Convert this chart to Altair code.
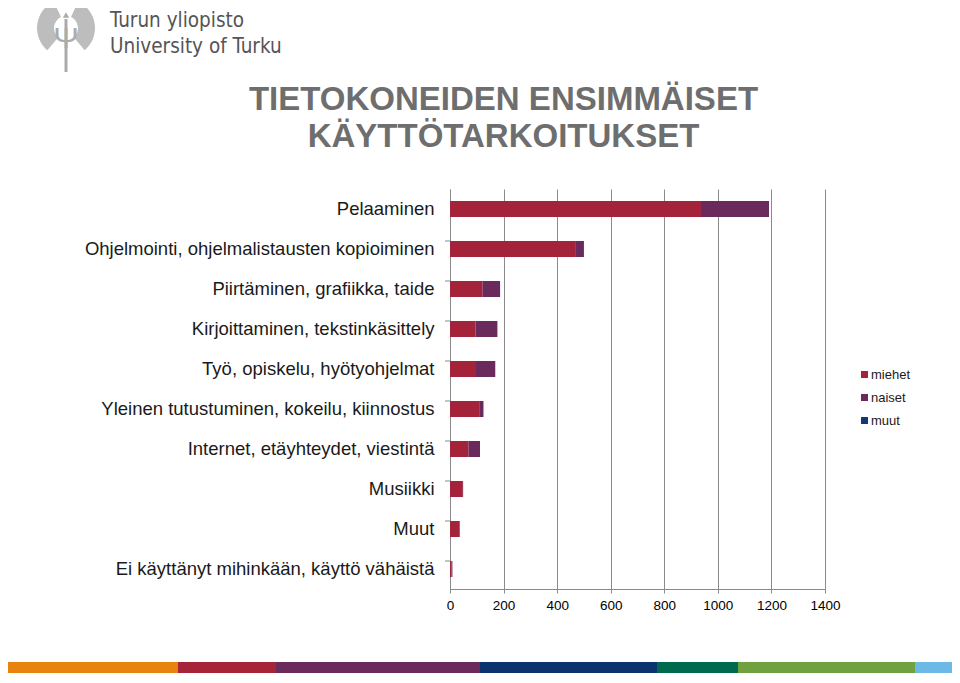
import altair as alt
import pandas as pd

categories = [
    "Pelaaminen",
    "Ohjelmointi, ohjelmalistausten kopioiminen",
    "Piirtäminen, grafiikka, taide",
    "Kirjoittaminen, tekstinkäsittely",
    "Työ, opiskelu, hyötyohjelmat",
    "Yleinen tutustuminen, kokeilu, kiinnostus",
    "Internet, etäyhteydet, viestintä",
    "Musiikki",
    "Muut",
    "Ei käyttänyt mihinkään, käyttö vähäistä",
]
series = ["miehet", "naiset", "muut"]
series_colors = ["#a4233b", "#6b2a5c", "#123a78"]
miehet = [937, 470, 121, 95, 97, 109, 69, 48, 36, 6]
naiset = [254, 30, 66, 82, 72, 16, 43, 1, 1, 3]
muut = [0, 0, 0, 0, 0, 0, 0, 0, 0, 0]
x_ticks = [0, 200, 400, 600, 800, 1000, 1200, 1400]

title_lines = ["TIETOKONEIDEN ENSIMMÄISET", "KÄYTTÖTARKOITUKSET"]
logo_lines = ["Turun yliopisto", "University of Turku"]

strip_start = [5, 178, 276, 480, 657, 738, 915]
strip_end = [178, 276, 480, 657, 738, 915, 957]
strip_colors = ["#e8830f", "#a6233a", "#6a2a5b", "#0a3370", "#006a4e", "#6fa23f", "#6cb8e6"]

rows = []
for i, c in enumerate(categories):
    for j, (s, vals) in enumerate(zip(series, [miehet, naiset, muut])):
        rows.append({"kategoria": c, "sarja": s, "arvo": vals[i], "ord": j})
df = pd.DataFrame(rows)

FONT = "Liberation Sans, Arial, sans-serif"

yscale = alt.Scale(domain=categories, paddingInner=0.6, paddingOuter=0.3)
yaxis = alt.Axis(title=None, ticks=False, labelFontSize=18.5, labelColor="#1a1a1a",
                 labelFont=FONT, labelPadding=16, labelLimit=600,
                 domainColor="#8a8a8a", grid=False)

bars = alt.Chart(df).mark_bar().encode(
    y=alt.Y("kategoria:N", scale=yscale, sort=categories, axis=yaxis),
    x=alt.X("arvo:Q", stack="zero",
            scale=alt.Scale(domain=[0, 1400], nice=False),
            axis=alt.Axis(title=None, values=x_ticks, grid=True, gridColor="#8a8a8a",
                          domainColor="#8a8a8a", tickColor="#8a8a8a", tickSize=4,
                          labelPadding=5, labelFontSize=13.5, labelColor="#000000",
                          labelFont=FONT, labelFlush=False, format="d")),
    color=alt.Color("sarja:N", scale=alt.Scale(domain=series, range=series_colors),
                    legend=alt.Legend(title=None, orient="none", legendX=408, legendY=179,
                                      symbolType="square", symbolSize=49, symbolStrokeWidth=0,
                                      labelFontSize=13, labelColor="#1a1a1a", labelFont=FONT,
                                      rowPadding=9, labelOffset=0, padding=0)),
    order=alt.Order("ord:Q"),
)

tick_df = pd.DataFrame({"kategoria": categories[1:]})
yticks = alt.Chart(tick_df).mark_rule(color="#8a8a8a").encode(
    y=alt.Y("kategoria:N", scale=yscale, sort=categories, bandPosition=0, axis=yaxis),
    x=alt.value(-5), x2=alt.value(0),
)

one = pd.DataFrame({"a": [0]})
t1 = alt.Chart(one).mark_text(fontSize=33, fontWeight="bold", color="#6e6e6e", font=FONT,
                               align="center", baseline="alphabetic").encode(
    x=alt.value(53.5), y=alt.value(-79), text=alt.value(title_lines[0]))
t2 = alt.Chart(one).mark_text(fontSize=33, fontWeight="bold", color="#6e6e6e", font=FONT,
                               align="center", baseline="alphabetic").encode(
    x=alt.value(53.5), y=alt.value(-42), text=alt.value(title_lines[1]))

LOGO_FONT = "Liberation Sans Narrow, DejaVu Sans Condensed, Roboto Condensed, Liberation Sans, sans-serif"
l1 = alt.Chart(one).mark_text(fontSize=20.5, color="#555555", font=LOGO_FONT,
                               align="left", baseline="alphabetic").encode(
    x=alt.value(-340), y=alt.value(-162), text=alt.value(logo_lines[0]))
l2 = alt.Chart(one).mark_text(fontSize=20.5, color="#555555", font=LOGO_FONT,
                               align="left", baseline="alphabetic").encode(
    x=alt.value(-340), y=alt.value(-136), text=alt.value(logo_lines[1]))

# emblem (decorative approximation)
EMB = "#ababab"
wing_l = alt.Chart(one).mark_arc(innerRadius=12, outerRadius=29, theta=3.84, theta2=5.85,
                                 color="#bdbdbd").encode(x=alt.value(-384), y=alt.value(-161))
wing_r = alt.Chart(one).mark_arc(innerRadius=12, outerRadius=29, theta=0.43, theta2=2.44,
                                 color="#bdbdbd").encode(x=alt.value(-384), y=alt.value(-161))
stem = alt.Chart(one).mark_rule(color=EMB, strokeWidth=3).encode(
    x=alt.value(-384), y=alt.value(-170), y2=alt.value(-117))
trident = alt.Chart(one).mark_text(fontSize=30, color=EMB, font=FONT, align="center",
                                   baseline="alphabetic").encode(
    x=alt.value(-384), y=alt.value(-141), text=alt.value("Ψ"))
flame = alt.Chart(one).mark_point(shape="triangle-up", size=40, filled=True, color=EMB,
                                  opacity=1).encode(x=alt.value(-384), y=alt.value(-174))

strip_df = pd.DataFrame({"s": strip_start, "e": strip_end, "c": strip_colors})
strip = alt.Chart(strip_df).mark_rule(strokeWidth=11, strokeCap="butt").encode(
    x=alt.X("s:Q", scale=alt.Scale(domain=[0, 960], range=[-450, 510]), axis=None),
    x2="e:Q",
    y=alt.value(478.5),
    color=alt.Color("c:N", scale=None),
)

chart = alt.layer(bars, yticks, t1, t2, l1, l2, wing_l, wing_r, stem, trident, flame,
                  strip).resolve_scale(
    x="independent", color="independent"
).properties(
    width=375, height=400,
    padding={"left": 442, "top": 181, "right": 127, "bottom": 84},
    autosize=alt.AutoSizeParams(type="none"),
).configure_view(stroke=None)

chart.save("out.html", embed_options={"renderer": "svg", "actions": False})
